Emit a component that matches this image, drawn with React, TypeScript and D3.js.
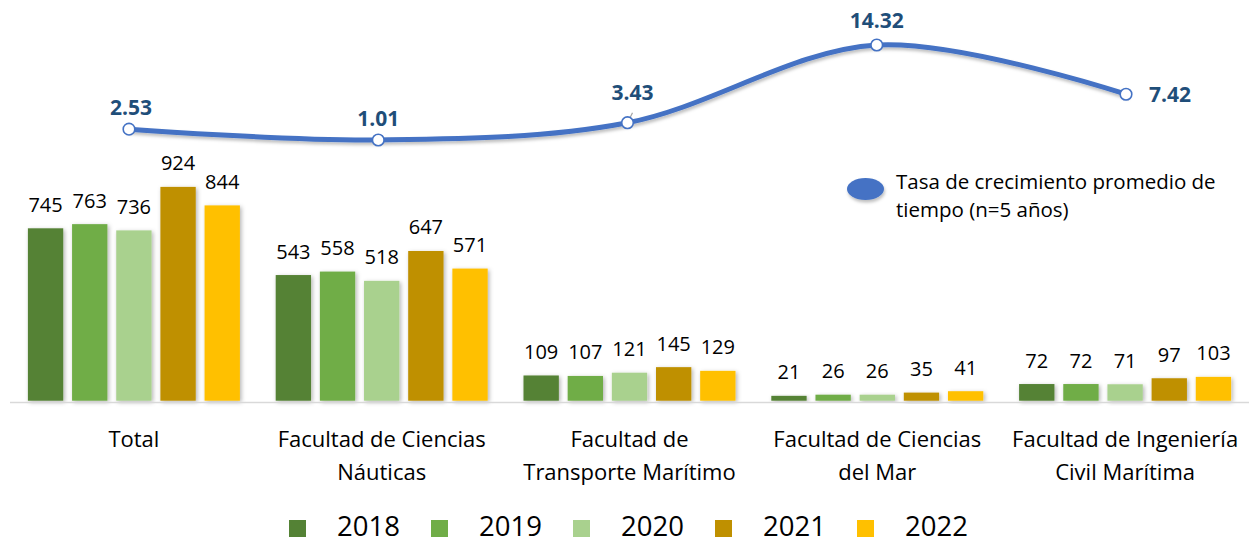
import React from "react";
import * as d3 from "d3";

const categories: string[][] = [
  ["Total"],
  ["Facultad de Ciencias", "Náuticas"],
  ["Facultad de", "Transporte Marítimo"],
  ["Facultad de Ciencias", "del Mar"],
  ["Facultad de Ingeniería", "Civil Marítima"],
];
const years = ["2018", "2019", "2020", "2021", "2022"];
const v2018 = [745, 543, 109, 21, 72];
const v2019 = [763, 558, 107, 26, 72];
const v2020 = [736, 518, 121, 26, 71];
const v2021 = [924, 647, 145, 35, 97];
const v2022 = [844, 571, 129, 41, 103];
const growth = [2.53, 1.01, 3.43, 14.32, 7.42];
const lineLabel = "Tasa de crecimiento promedio de";
const lineLabel2 = "tiempo (n=5 años)";

const series = [v2018, v2019, v2020, v2021, v2022];
const colors = ["#548235", "#70AD47", "#A9D18E", "#BF9000", "#FFC000"];
const lineColor = "#4472C4";
const labelBlue = "#1F4E79";

// label placement per line point (layout only)
const lblPlace = [
  { dx: 2, dy: -14, anchor: "middle" },
  { dx: 0, dy: -13.5, anchor: "middle" },
  { dx: 5, dy: -23, anchor: "middle" },
  { dx: 0, dy: -17, anchor: "middle" },
  { dx: 23, dy: 7.5, anchor: "start" },
];

const FONT = "'Open Sans', 'Noto Sans', sans-serif";

export default function App() {
  const W = 1258, H = 543;
  const idx = categories.map((_, i) => String(i));
  const x0 = d3.scaleBand<string>().domain(idx).range([10, 1249]).padding(0);
  const groupW = 212;
  const groupOff = (x0.bandwidth() - groupW) / 2;
  const x1 = d3.scaleBand<string>().domain(years).range([0, groupW]).paddingInner(0.2).paddingOuter(0);
  const y = d3.scaleLinear().domain([0, 1000]).range([400.7, 169.3]);

  const xl = d3.scalePoint<string>().domain(idx).range([129, 1126]);
  const yl = d3.scaleLinear().domain([0, 14.32]).range([147.2, 45]);
  const line = d3
    .line<number>()
    .x((_, i) => xl(String(i))!)
    .y((d) => yl(d))
    .curve(d3.curveCardinal.tension(0));

  return (
    <svg
      width={W}
      height={H}
      style={{ position: "absolute", left: 0, top: 0, background: "#fff" }}
      fontFamily={FONT}
    >
      <defs>
        <filter id="sh" x="-30%" y="-30%" width="160%" height="160%">
          <feDropShadow dx="1.5" dy="1.5" stdDeviation="2" floodColor="#000" floodOpacity="0.3" />
        </filter>
        <filter id="shl" x="-10%" y="-30%" width="120%" height="160%">
          <feDropShadow dx="1" dy="2.5" stdDeviation="1.8" floodColor="#000" floodOpacity="0.25" />
        </filter>
      </defs>

      {/* bars */}
      {idx.map((c, ci) => (
        <g key={c} transform={`translate(${x0(c)! + groupOff},0)`}>
          {years.map((yr, si) => {
            const v = series[si][ci];
            const bx = x1(yr)!;
            const by = y(v);
            return (
              <g key={yr}>
                <rect
                  x={bx}
                  y={by}
                  width={x1.bandwidth()}
                  height={y(0) - by}
                  fill={colors[si]}
                  filter="url(#sh)"
                />
                <text
                  x={bx + x1.bandwidth() / 2}
                  y={by - 16.5}
                  textAnchor="middle"
                  fontSize={20}
                  fill="#000"
                >
                  {v}
                </text>
              </g>
            );
          })}
        </g>
      ))}

      {/* axis line */}
      <line x1={10} x2={1249} y1={402.5} y2={402.5} stroke="#D9D9D9" strokeWidth={1.5} />

      {/* category labels */}
      {idx.map((c, ci) => (
        <text
          key={c}
          x={x0(c)! + x0.bandwidth() / 2}
          y={446.5}
          textAnchor="middle"
          fontSize={22}
          fill="#000"
        >
          {categories[ci].map((t, li) => (
            <tspan key={li} x={x0(c)! + x0.bandwidth() / 2} dy={li === 0 ? 0 : 33}>
              {t}
            </tspan>
          ))}
        </text>
      ))}

      {/* line series */}
      <path
        d={line(growth)!}
        fill="none"
        stroke={lineColor}
        strokeWidth={5}
        strokeLinecap="round"
        filter="url(#shl)"
      />
      {/* leader for 3.43 */}
      <line
        x1={xl("2")! + 2}
        y1={yl(growth[2]) - 4}
        x2={xl("2")! + 5}
        y2={yl(growth[2]) - 10}
        stroke="#A6A6A6"
        strokeWidth={1.2}
      />
      {growth.map((g, i) => (
        <circle
          key={i}
          cx={xl(String(i))!}
          cy={yl(g)}
          r={5.8}
          fill="#fff"
          stroke={lineColor}
          strokeWidth={1.6}
        />
      ))}
      {growth.map((g, i) => (
        <text
          key={i}
          x={xl(String(i))! + lblPlace[i].dx}
          y={yl(g) + lblPlace[i].dy}
          textAnchor={lblPlace[i].anchor as any}
          fontSize={21}
          fontWeight={700}
          fill={labelBlue}
        >
          {g.toFixed(2)}
        </text>
      ))}

      {/* line legend */}
      <ellipse cx={865.5} cy={189} rx={18.5} ry={11} fill={lineColor} filter="url(#shl)" />
      <text x={896} y={189} fontSize={20.5} fill="#000">
        {lineLabel}
      </text>
      <text x={896} y={217} fontSize={20.5} fill="#000">
        {lineLabel2}
      </text>

      {/* bar legend */}
      {years.map((yr, i) => (
        <g key={yr} transform={`translate(${289 + i * 142},0)`}>
          <rect x={0} y={520} width={17} height={17} fill={colors[i]} />
          <text x={48} y={535.5} fontSize={27.5} fill="#000">
            {yr}
          </text>
        </g>
      ))}
    </svg>
  );
}
